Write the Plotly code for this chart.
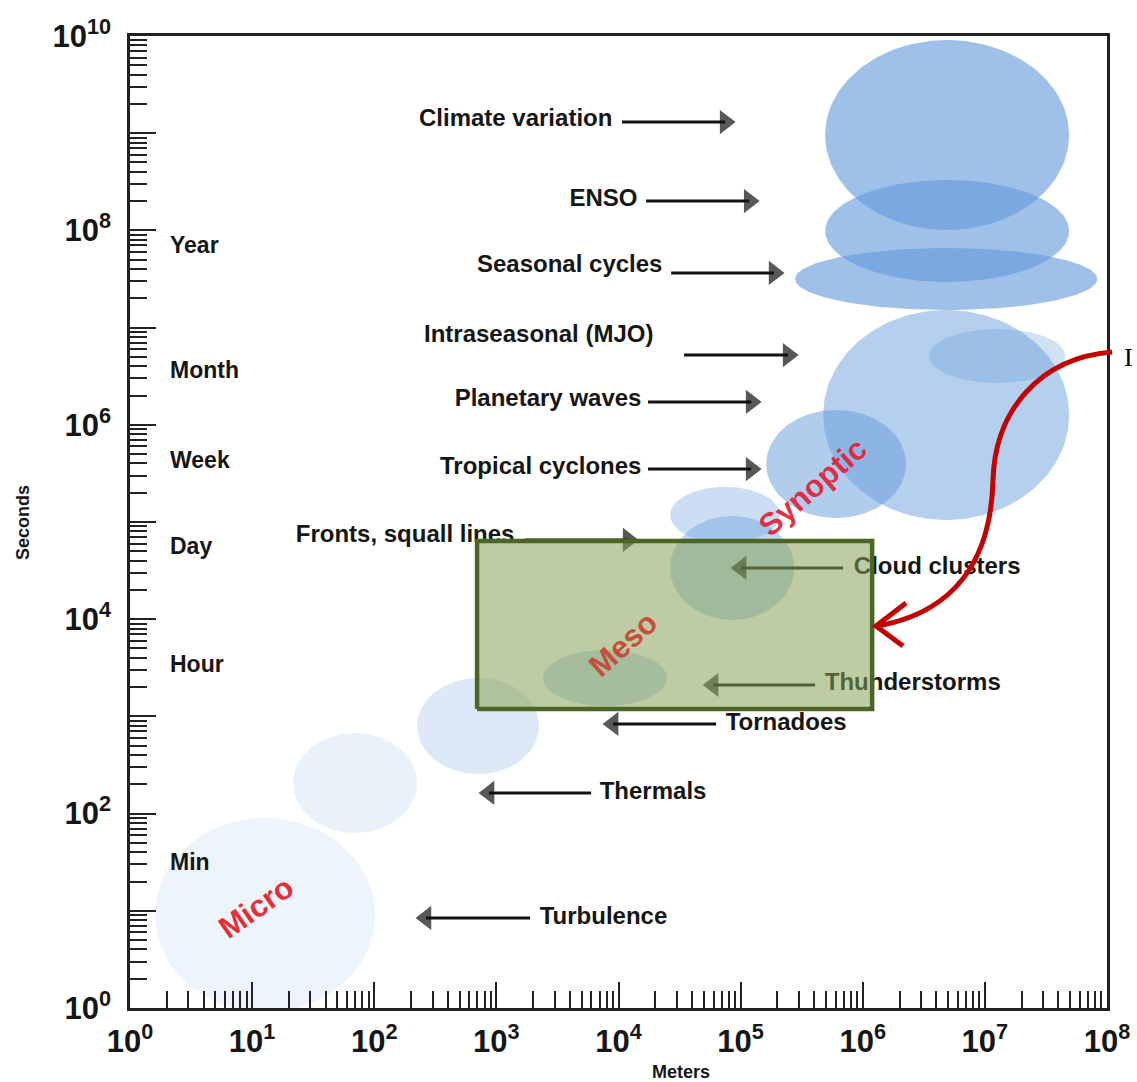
import numpy as np
import plotly.graph_objects as go

# ---------------- data (log10 metres / log10 seconds) ----------------
blob_names = ["Turbulence", "Thermals", "Tornadoes", "Thunderstorms", "Fronts, squall lines",
              "Cloud clusters", "Tropical cyclones", "Synoptic", "Intraseasonal (MJO)",
              "Climate variation", "ENSO", "Seasonal cycles"]
blob_cx = [1.106, 1.843, 2.850, 3.890, 4.873, 4.930, 5.782, 6.683, 7.101, 6.691, 6.691, 6.683]
blob_cy = [0.957, 2.315, 2.901, 3.395, 5.072, 4.527, 5.597, 6.101, 6.708, 8.981, 7.994, 7.500]
blob_rx = [0.900, 0.508, 0.500, 0.508, 0.450, 0.508, 0.573, 1.007, 0.557, 0.999, 0.999, 1.237]
blob_ry = [1.000, 0.514, 0.494, 0.288, 0.290, 0.535, 0.556, 1.080, 0.278, 0.977, 0.525, 0.319]
blob_alpha = [0.11, 0.14, 0.22, 0.35, 0.33, 0.40, 0.50, 0.48, 0.30, 0.62, 0.62, 0.62]

# labelled arrows: text, text anchor x, y, arrow tail x, arrow head x, arrow y
label_text = ["Climate variation", "ENSO", "Seasonal cycles", "Intraseasonal (MJO)",
              "Planetary waves", "Tropical cyclones", "Fronts, squall lines",
              "Cloud clusters", "Thunderstorms", "Tornadoes", "Thermals", "Turbulence"]
label_x = [3.950, 4.155, 4.360, 4.286, 4.188, 4.188, 3.148, 5.927, 5.689, 4.878, 3.846, 3.355]
label_y = [9.136, 8.313, 7.634, 6.914, 6.255, 5.556, 4.856, 4.527, 3.333, 2.922, 2.212, 0.926]
label_side = ["left"] * 7 + ["right"] * 5
arrow_tail = [4.029, 4.226, 4.431, 4.537, 4.242, 4.242, 3.235, 5.839, 5.610, 4.799, 3.776, 3.276]
arrow_head = [4.873, 5.070, 5.274, 5.389, 5.086, 5.086, 4.079, 5.004, 4.775, 3.956, 2.940, 2.424]
arrow_y = [9.115, 8.302, 7.562, 6.718, 6.235, 5.545, 4.815, 4.527, 3.323, 2.922, 2.212, 0.926]

# time-scale names on the seconds axis
time_names = ["Year", "Month", "Week", "Day", "Hour", "Min"]
time_y = [7.85, 6.56, 5.64, 4.75, 3.54, 1.50]

# scale regions
region_names = ["Micro", "Meso", "Synoptic"]
region_x = [1.032, 4.038, 5.586]
region_y = [1.029, 3.735, 5.360]
region_angle = [-35, -42, -41]

# highlighted mesoscale box (decades)
box_x = [2.842, 6.077]
box_y = [3.076, 4.805]

x_decades = list(range(0, 9))
y_decades = list(range(0, 11))

# ---------------- figure ----------------
FONT = "Liberation Sans, Arial, Helvetica, sans-serif"
INK = "#161616"
fig = go.Figure()

t = np.linspace(0, 2 * np.pi, 160)
for name, cx, cy, rx, ry, a in zip(blob_names, blob_cx, blob_cy, blob_rx, blob_ry, blob_alpha):
    fig.add_trace(go.Scatter(
        x=10 ** (cx + rx * np.cos(t)), y=10 ** (cy + ry * np.sin(t)),
        mode="lines", fill="toself", line=dict(width=0),
        fillcolor=f"rgba(100,155,220,{a})", hoverinfo="skip", name=name, showlegend=False))

# label texts
for txt, lx, ly, side in zip(label_text, label_x, label_y, label_side):
    fig.add_trace(go.Scatter(
        x=[10 ** lx], y=[10 ** ly], mode="text", text=[txt],
        textposition="middle left" if side == "left" else "middle right",
        textfont=dict(family=FONT, size=24, color=INK, weight="bold"),
        hoverinfo="skip", showlegend=False, cliponaxis=False))

# arrows
for tail, head, ay in zip(arrow_tail, arrow_head, arrow_y):
    sym = "triangle-right" if head > tail else "triangle-left"
    fig.add_trace(go.Scatter(
        x=[10 ** tail, 10 ** head], y=[10 ** ay, 10 ** ay], mode="lines+markers",
        line=dict(color="#111", width=3),
        marker=dict(symbol=sym, size=[0, 21], color="#111", line=dict(width=0)),
        hoverinfo="skip", showlegend=False))

# green mesoscale box
fig.add_trace(go.Scatter(
    x=[10 ** box_x[0], 10 ** box_x[1], 10 ** box_x[1], 10 ** box_x[0], 10 ** box_x[0]],
    y=[10 ** box_y[0], 10 ** box_y[0], 10 ** box_y[1], 10 ** box_y[1], 10 ** box_y[0]],
    mode="lines", fill="toself", fillcolor="rgba(135,162,85,0.55)",
    line=dict(color="#4b6527", width=4.5), hoverinfo="skip", showlegend=False))

# ---------------- annotations ----------------
ann = []
for nm, ty in zip(time_names, time_y):
    ann.append(dict(xref="paper", yref="y", x=(168 - 130) / 977, y=ty, xanchor="left",
                    yanchor="middle", text=f"<b>{nm}</b>", showarrow=False,
                    font=dict(family=FONT, size=23, color=INK)))
region_colors = ["rgba(232,30,40,0.95)", "rgba(200,70,55,0.95)", "rgba(228,30,50,0.92)"]
for nm, rx_, ry_, ang, col in zip(region_names, region_x, region_y, region_angle, region_colors):
    ann.append(dict(xref="x", yref="y", x=rx_, y=ry_, text=f"<b>{nm}</b>", textangle=ang,
                    showarrow=False, font=dict(family=FONT, size=31, color=col)))

def fx(px):
    return (px - 130) / 977

def fy(py):
    return (1008 - py) / 972

ann.append(dict(xref="paper", yref="paper", x=fx(23), y=fy(523), xanchor="center",
                yanchor="middle", text="<b>Seconds</b>",
                textangle=-90, showarrow=False, font=dict(family=FONT, size=18, color=INK)))
ann.append(dict(xref="paper", yref="paper", x=fx(681), y=fy(1072), xanchor="center",
                yanchor="middle", text="<b>Meters</b>",
                showarrow=False, font=dict(family=FONT, size=18, color=INK)))
ann.append(dict(xref="paper", yref="paper", x=fx(1122), y=fy(357), xanchor="left",
                yanchor="middle", text="I", showarrow=False,
                font=dict(family="Liberation Serif, Times New Roman, serif", size=26, color="#000")))

curve = (f"M {fx(1112)},{fy(352)} C {fx(1040)},{fy(358)} {fx(995)},{fy(410)} {fx(993)},{fy(480)} "
         f"C {fx(991)},{fy(560)} {fx(955)},{fy(612)} {fx(878)},{fy(626)}")
head = f"M {fx(906)},{fy(603)} L {fx(876)},{fy(626)} L {fx(903)},{fy(646)}"
shapes = [
    dict(type="path", xref="paper", yref="paper", path=curve, layer="above",
         line=dict(color="#c40000", width=5)),
    dict(type="path", xref="paper", yref="paper", path=head, layer="above",
         line=dict(color="#c40000", width=5)),
]

def exp_label(k):
    return f"<b>10<sup>{k}</sup></b>"

x_minor = [m * 10 ** d for d in x_decades[:-1] for m in range(2, 10)]
y_minor = [m * 10 ** d for d in y_decades[:-1] for m in range(2, 10)]

axis_common = dict(type="log", showgrid=False, zeroline=False, showline=True, linecolor="#222",
                   linewidth=2.5, mirror=True, ticks="inside", ticklen=26, tickwidth=2,
                   tickcolor="#222", tickmode="array", automargin=False)

fig.update_layout(
    width=1137, height=1082,
    margin=dict(l=130, r=30, t=36, b=74),
    paper_bgcolor="white", plot_bgcolor="white",
    showlegend=False,
    annotations=ann, shapes=shapes,
    xaxis=dict(**axis_common, range=[0, 8],
               tickvals=[10 ** k for k in x_decades],
               ticktext=[exp_label(k) for k in x_decades],
               tickfont=dict(family=FONT, size=31, color=INK), ticklabelstandoff=4,
               minor=dict(ticks="inside", ticklen=17, tickwidth=2, tickcolor="#222",
                          tickmode="array", tickvals=x_minor, showgrid=False)),
    yaxis=dict(**axis_common, range=[0, 10],
               tickvals=[10 ** k for k in y_decades],
               ticktext=[exp_label(k) if k % 2 == 0 else "" for k in y_decades],
               tickfont=dict(family=FONT, size=31, color=INK), ticklabelstandoff=10,
               minor=dict(ticks="inside", ticklen=17, tickwidth=2, tickcolor="#222",
                          tickmode="array", tickvals=y_minor, showgrid=False)),
)

fig.write_html("out.html", config={"displayModeBar": False},
               post_script="document.body.style.margin='0';")
